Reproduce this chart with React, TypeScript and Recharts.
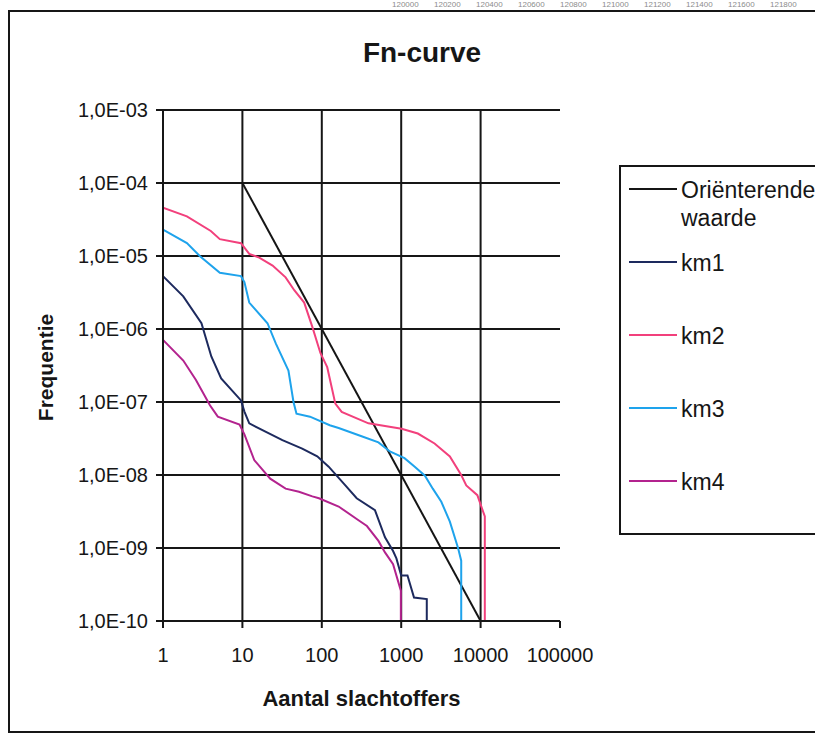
import React from "react";
import { LineChart, Line, XAxis, YAxis, ReferenceLine, Legend } from "recharts";

// Fn-curve: frequentie (log) tegen aantal slachtoffers (log)

const FONT = '"Liberation Sans", Arial, Helvetica, sans-serif';
const INK = "#161616";

const X_TICKS = [1, 10, 100, 1000, 10000, 100000];
const X_TICK_LABELS = ["1", "10", "100", "1000", "10000", "100000"];
const X_GRID = [10, 100, 1000, 10000];

const Y_TICKS = [1e-10, 1e-9, 1e-8, 1e-7, 1e-6, 1e-5, 1e-4, 1e-3];
const Y_TICK_LABELS = [
  "1,0E-10", "1,0E-09", "1,0E-08", "1,0E-07",
  "1,0E-06", "1,0E-05", "1,0E-04", "1,0E-03",
];

// gescande kopregel boven de figuur
const HEADER_NUMBERS = ["120000", "120200", "120400", "120600", "120800", "121000", "121200", "121400", "121600", "121800"];

// Oriënterende waarde
const OR_N = [10, 10000];
const OR_F = [1e-4, 1e-10];

// km1
const KM1_N = [1, 1.8, 3.05, 4.06, 5.4, 9.6, 10.6, 12.2, 19.8, 31.9, 56.6, 87.6, 122, 198, 275, 467, 625, 790, 870, 1000, 1200, 1450, 2100, 2100];
const KM1_F = [5.3e-6, 2.8e-6, 1.2e-6, 4.2e-7, 2.1e-7, 1.05e-7, 7.4e-8, 5.1e-8, 3.9e-8, 3.0e-8, 2.3e-8, 1.8e-8, 1.3e-8, 7.2e-9, 4.8e-9, 3.3e-9, 1.4e-9, 9.1e-10, 7.2e-10, 4.2e-10, 4.2e-10, 2.1e-10, 2.0e-10, 1e-10];

// km2
const KM2_N = [1, 2, 4, 5.2, 9.6, 12.2, 16.3, 24, 35, 45, 60, 76, 96, 117, 148, 178, 387, 1010, 1620, 2630, 4100, 5700, 6600, 9100, 11300, 11300];
const KM2_F = [4.6e-5, 3.5e-5, 2.2e-5, 1.7e-5, 1.5e-5, 1.07e-5, 9.5e-6, 7.4e-6, 5.1e-6, 3.4e-6, 2.3e-6, 1.07e-6, 4.7e-7, 3.0e-7, 9.5e-8, 7.3e-8, 5.1e-8, 4.3e-8, 3.7e-8, 2.7e-8, 1.8e-8, 1.0e-8, 7.2e-9, 5.3e-9, 2.7e-9, 1e-10];

// km3
const KM3_N = [1, 2, 2.9, 5.2, 9.6, 10.6, 12.2, 20.7, 26.4, 38, 44, 48, 71, 126, 163, 317, 517, 720, 1100, 1480, 1990, 2500, 3200, 4100, 5200, 5700, 5700];
const KM3_F = [2.3e-5, 1.5e-5, 1.0e-5, 5.9e-6, 5.3e-6, 4.4e-6, 2.3e-6, 1.2e-6, 6.3e-7, 2.7e-7, 1.0e-7, 6.9e-8, 6.3e-8, 4.8e-8, 4.4e-8, 3.4e-8, 2.8e-8, 2.1e-8, 1.7e-8, 1.3e-8, 9.8e-9, 6.5e-9, 4.3e-9, 2.3e-9, 1.0e-9, 6.7e-10, 1e-10];

// km4
const KM4_N = [1, 1.8, 2.6, 3.9, 4.9, 9.2, 10.6, 14.1, 22.4, 35, 51.6, 76, 92, 163, 290, 370, 517, 625, 790, 990, 990];
const KM4_F = [7.1e-7, 3.7e-7, 2.0e-7, 9e-8, 6.3e-8, 4.9e-8, 3.6e-8, 1.6e-8, 8.9e-9, 6.5e-9, 5.9e-9, 5.1e-9, 4.8e-9, 3.7e-9, 2.4e-9, 2.0e-9, 1.25e-9, 8.7e-10, 6e-10, 2.6e-10, 1e-10];

const toPoints = (n: number[], f: number[]) => n.map((x, i) => ({ n: x, f: f[i] }));

const SERIES = [
  { key: "or", name: "Oriënterende waarde", color: "#151515", data: toPoints(OR_N, OR_F) },
  { key: "km1", name: "km1", color: "#1d2a5e", data: toPoints(KM1_N, KM1_F) },
  { key: "km2", name: "km2", color: "#f2407c", data: toPoints(KM2_N, KM2_F) },
  { key: "km3", name: "km3", color: "#1ea3ec", data: toPoints(KM3_N, KM3_F) },
  { key: "km4", name: "km4", color: "#b3238e", data: toPoints(KM4_N, KM4_F) },
];

const fmtX = (v: number) => X_TICK_LABELS[X_TICKS.findIndex((t) => Math.abs(Math.log10(t) - Math.log10(v)) < 1e-6)] ?? String(v);
const fmtY = (v: number) => Y_TICK_LABELS[Y_TICKS.findIndex((t) => Math.abs(Math.log10(t) - Math.log10(v)) < 1e-6)] ?? String(v);

function FnLegend() {
  return (
    <div
      style={{
        boxSizing: "border-box",
        width: 300,
        height: 370,
        border: `2px solid ${INK}`,
        background: "#fff",
        fontFamily: FONT,
        fontSize: 23,
        color: INK,
        paddingTop: 9,
      }}
    >
      {SERIES.map((s, i) => (
        <div
          key={s.key}
          style={{
            display: "flex",
            alignItems: "flex-start",
            marginTop: i === 0 ? 0 : i === 1 ? 17 : 45,
            lineHeight: "28px",
          }}
        >
          <div style={{ width: 48, height: 2, background: s.color, marginLeft: 8, marginTop: 12, flex: "none" }} />
          <div style={{ marginLeft: 4, width: 142, whiteSpace: "normal" }}>{s.name}</div>
        </div>
      ))}
    </div>
  );
}

export default function App() {
  return (
    <div style={{ position: "fixed", left: 0, top: 0, width: 815, height: 734, overflow: "hidden", background: "#fff" }}>
      {/* kopregel van de scan */}
      <div style={{ position: "absolute", left: 392, top: 0, lineHeight: "9px", fontFamily: FONT, fontSize: 8, color: "#8c8c8c", whiteSpace: "nowrap" }}>
        {HEADER_NUMBERS.map((h) => (
          <span key={h} style={{ display: "inline-block", width: 42 }}>{h}</span>
        ))}
      </div>

      {/* kader van de grafiek */}
      <div style={{ position: "absolute", left: 8, top: 10, width: 900, height: 723, boxSizing: "border-box", border: `2px solid ${INK}` }} />

      <div style={{ position: "absolute", left: 322, top: 37, width: 200, textAlign: "center", fontFamily: FONT, fontWeight: 700, fontSize: 28, color: INK }}>
        Fn-curve
      </div>

      <div style={{ position: "absolute", left: 0, top: 0 }}>
        <LineChart width={900} height={734} margin={{ top: 110, right: 340, bottom: 23, left: 63 }}>
          <XAxis
            dataKey="n"
            type="number"
            scale="log"
            domain={[1, 100000]}
            ticks={X_TICKS}
            tickFormatter={fmtX}
            allowDataOverflow
            height={90}
            axisLine={{ stroke: INK, strokeWidth: 2 }}
            tickLine={{ stroke: INK, strokeWidth: 2 }}
            tickSize={7}
            tickMargin={20}
            tick={{ fill: INK, fontSize: 20, fontFamily: FONT }}
            label={{
              content: (p: any) => (
                <text
                  x={p.viewBox.x + p.viewBox.width / 2}
                  y={p.viewBox.y + 85}
                  textAnchor="middle"
                  fill={INK}
                  fontFamily={FONT}
                  fontWeight={700}
                  fontSize={22}
                >
                  Aantal slachtoffers
                </text>
              ),
            }}
          />
          <YAxis
            dataKey="f"
            type="number"
            scale="log"
            domain={[1e-10, 1e-3]}
            ticks={Y_TICKS}
            tickFormatter={fmtY}
            allowDataOverflow
            width={100}
            axisLine={{ stroke: INK, strokeWidth: 2 }}
            tickLine={{ stroke: INK, strokeWidth: 2 }}
            tickSize={7}
            tickMargin={8}
            tick={{ fill: INK, fontSize: 20, fontFamily: FONT }}
            label={{
              content: (p: any) => {
                const cx = p.viewBox.x - 18;
                const cy = p.viewBox.y + p.viewBox.height / 2 + 2;
                return (
                  <text
                    x={cx}
                    y={cy}
                    transform={`rotate(-90 ${cx} ${cy})`}
                    textAnchor="middle"
                    dominantBaseline="central"
                    fill={INK}
                    fontFamily={FONT}
                    fontWeight={700}
                    fontSize={21}
                  >
                    Frequentie
                  </text>
                );
              },
            }}
          />

          {Y_TICKS.map((v) => (
            <ReferenceLine key={`h${v}`} y={v} stroke={INK} strokeWidth={2} />
          ))}
          {X_GRID.map((v) => (
            <ReferenceLine key={`v${v}`} x={v} stroke={INK} strokeWidth={2} />
          ))}

          {SERIES.map((s) => (
            <Line
              key={s.key}
              data={s.data}
              dataKey="f"
              name={s.name}
              type="linear"
              stroke={s.color}
              strokeWidth={2}
              dot={false}
              activeDot={false}
              isAnimationActive={false}
            />
          ))}

          <Legend
            layout="vertical"
            align="center"
            verticalAlign="middle"
            content={() => <FnLegend />}
            wrapperStyle={{ left: 619, top: 165, width: 300, height: 370 }}
          />
        </LineChart>
      </div>
    </div>
  );
}
